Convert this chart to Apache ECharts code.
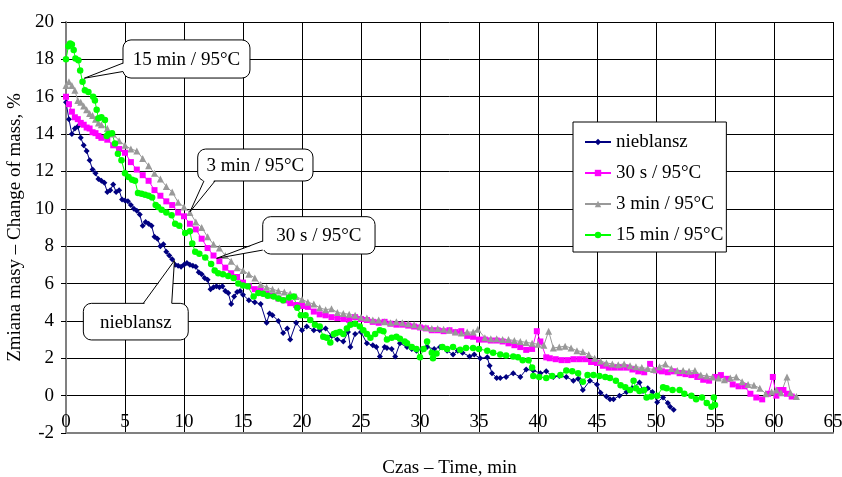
<!DOCTYPE html>
<html><head><meta charset="utf-8">
<script src="https://cdn.jsdelivr.net/npm/echarts@6/dist/echarts.min.js"></script>
<style>html,body{margin:0;padding:0;background:#fff}#c{width:842px;height:477px}</style>
</head><body><div id="c"></div>
<script>
const seriesNames = ['nieblansz', '30 s / 95°C', '3 min / 95°C', '15 min / 95°C'];
const xRange = [0, 65, 5];
const yRange = [-2, 20, 2];
const xTitle = 'Czas – Time, min';
const yTitle = 'Zmiana masy – Change of mass, %';

const nieblansz = [[0,15.7],[0.25,14.8],[0.5,14.0],[0.75,14.3],[1.0,14.4],[1.25,13.8],[1.5,13.4],[1.75,13.1],[2.0,12.6],[2.25,12.1],[2.5,11.9],[2.75,11.6],[3.0,11.5],[3.25,11.4],[3.5,10.9],[3.75,11.0],[4.0,11.3],[4.25,10.9],[4.5,11.0],[4.75,10.5],[5.0,10.45],[5.25,10.4],[5.5,10.2],[5.75,10.0],[6.0,9.9],[6.25,9.7],[6.5,9.1],[6.75,9.3],[7.0,9.2],[7.25,9.1],[7.5,8.5],[7.75,8.4],[8.0,8.0],[8.25,8.1],[8.5,7.7],[8.75,7.5],[9.0,7.3],[9.25,7.0],[9.5,6.95],[9.75,6.9],[10.0,7.0],[10.25,7.1],[10.5,7.0],[10.75,6.95],[11.0,6.9],[11.25,6.6],[11.5,6.5],[11.75,6.3],[12.0,6.2],[12.25,5.7],[12.5,5.8],[12.75,5.85],[13.0,5.8],[13.25,5.85],[13.5,5.6],[13.75,5.5],[14.0,4.9],[14.25,5.3],[14.5,5.55],[14.75,5.6],[15.0,5.4],[15.5,5.1],[16.0,5.0],[16.5,4.9],[17.0,3.9],[17.25,4.4],[17.5,4.3],[18.0,4.0],[18.4,3.35],[18.75,3.6],[19.0,3.0],[19.5,3.9],[20.0,3.5],[20.4,3.7],[21.0,3.5],[21.5,3.5],[22.0,3.6],[22.5,3.2],[23.0,3.0],[23.5,2.9],[23.9,3.4],[24.1,2.6],[24.5,3.3],[25.0,3.4],[25.5,2.8],[26.0,2.7],[26.3,2.6],[26.6,2.1],[27.0,2.6],[27.2,2.55],[27.6,2.5],[27.9,2.1],[28.3,2.8],[28.9,2.6],[29.3,2.5],[29.7,2.4],[30.2,2.5],[30.6,2.6],[31.2,2.5],[31.7,2.6],[32.3,2.4],[32.8,2.2],[33.2,2.4],[33.6,2.3],[34.2,2.1],[34.6,2.2],[35.1,2.0],[35.7,2.05],[35.9,1.6],[36.1,1.2],[36.5,0.95],[36.8,0.95],[37.3,1.0],[37.9,1.2],[38.5,1.0],[39.0,1.4],[39.6,1.35],[40.2,1.2],[40.7,1.3],[41.3,1.0],[41.8,1.05],[42.4,1.0],[43.0,0.8],[43.4,0.9],[43.8,0.3],[44.4,0.8],[45.0,0.6],[45.3,0.15],[45.8,-0.05],[46.1,-0.2],[46.4,-0.2],[46.9,0.0],[47.5,0.2],[48.0,0.4],[48.6,0.7],[48.9,0.25],[49.3,0.4],[49.7,0.2],[50.1,-0.35],[50.6,-0.1],[51.0,-0.4],[51.2,-0.6],[51.5,-0.75]];

const blanch30s = [[0,16.0],[0.25,15.6],[0.5,15.2],[0.75,14.9],[1.0,14.8],[1.25,14.6],[1.5,14.5],[1.75,14.35],[2.0,14.3],[2.25,14.1],[2.5,14.05],[2.75,13.9],[3.0,13.8],[3.5,13.7],[4.0,13.4],[4.5,13.2],[5.0,13.0],[5.5,12.5],[6.0,12.1],[6.5,11.8],[7.0,11.5],[7.5,11.0],[8.0,10.7],[8.5,10.4],[9.0,10.2],[9.5,9.8],[10.0,9.6],[10.5,9.2],[11.0,8.9],[11.5,8.4],[12.0,7.9],[12.5,7.5],[13.0,7.2],[13.5,6.85],[14.0,6.55],[14.5,6.35],[15.0,6.05],[15.5,5.85],[16.0,5.7],[16.5,5.6],[17.0,5.45],[17.5,5.35],[18.0,5.2],[18.5,5.1],[19.0,4.95],[19.5,4.85],[20.0,4.8],[20.5,4.75],[21.0,4.5],[21.5,4.35],[22.0,4.3],[22.5,4.2],[23.0,4.15],[23.5,4.1],[24.0,4.05],[24.5,4.2],[25.0,4.1],[25.5,4.05],[26.0,3.95],[26.5,3.9],[27.0,3.95],[27.5,3.85],[28.0,3.8],[28.5,3.8],[29.0,3.75],[29.5,3.7],[30.0,3.65],[30.5,3.6],[31.0,3.5],[31.5,3.5],[32.0,3.45],[32.5,3.5],[33.0,3.4],[33.5,3.45],[34.0,3.2],[34.5,3.15],[35.0,3.0],[35.5,3.0],[36.0,2.95],[36.5,2.95],[37.0,2.9],[37.5,2.8],[38.0,2.7],[38.5,2.6],[39.0,2.45],[39.5,2.5],[39.9,3.45],[40.2,2.9],[40.7,2.05],[41.0,2.0],[41.5,1.95],[42.0,1.9],[42.5,1.9],[43.0,1.95],[43.5,1.95],[44.0,1.95],[44.5,1.8],[45.0,1.75],[45.5,1.6],[46.0,1.5],[46.5,1.5],[47.0,1.5],[47.5,1.5],[48.0,1.4],[48.5,1.3],[49.0,1.25],[49.5,1.7],[50.0,1.35],[50.5,1.3],[51.0,1.25],[51.5,1.3],[52.0,1.2],[52.5,1.15],[53.0,1.1],[53.5,1.0],[54.0,0.85],[54.5,0.8],[55.0,1.0],[55.5,1.1],[56.0,0.9],[56.5,0.6],[57.0,0.5],[57.5,0.5],[58.0,0.1],[58.5,-0.1],[59.0,-0.2],[59.5,0.1],[59.9,1.0],[60.2,0.0],[60.5,0.3],[60.8,0.3],[61.1,0.1],[61.5,-0.05]];

const blanch3min = [[0,16.6],[0.25,16.8],[0.5,16.6],[0.75,16.35],[1.0,15.8],[1.25,15.7],[1.5,15.5],[1.75,15.3],[2.0,15.1],[2.25,15.0],[2.5,14.8],[2.75,14.6],[3.0,14.5],[3.5,14.3],[4.0,14.0],[4.5,13.65],[5.0,13.4],[5.5,13.2],[6.0,13.1],[6.5,12.7],[7.0,12.3],[7.5,11.9],[8.0,11.6],[8.5,11.2],[9.0,10.9],[9.5,10.35],[10.0,10.1],[10.5,9.8],[11.0,9.3],[11.5,9.0],[12.0,8.5],[12.5,8.1],[13.0,7.9],[13.5,7.5],[14.0,7.2],[14.5,6.85],[15.0,6.7],[15.5,6.5],[16.0,6.3],[16.5,5.95],[17.0,5.8],[17.5,5.7],[18.0,5.6],[18.5,5.55],[19.0,5.45],[19.5,5.3],[20.0,5.15],[20.5,5.0],[21.0,4.9],[21.5,4.7],[22.0,4.6],[22.5,4.65],[23.0,4.45],[23.5,4.4],[24.0,4.35],[24.5,4.3],[25.0,4.2],[25.5,4.15],[26.0,4.05],[26.5,4.05],[27.0,3.95],[27.5,3.9],[28.0,3.95],[28.5,3.9],[29.0,3.85],[29.5,3.8],[30.0,3.7],[30.5,3.65],[31.0,3.6],[31.5,3.6],[32.0,3.55],[32.5,3.5],[33.0,3.4],[33.5,3.35],[34.0,3.4],[34.5,3.4],[34.9,3.55],[35.5,3.1],[36.0,3.05],[36.5,3.05],[37.0,3.0],[37.5,3.0],[38.0,2.95],[38.5,2.9],[39.0,2.85],[39.5,2.8],[40.0,2.75],[40.5,2.7],[40.9,3.45],[41.3,2.55],[41.8,2.6],[42.3,2.65],[42.8,2.55],[43.3,2.4],[43.8,2.35],[44.3,2.2],[44.8,2.0],[45.3,1.85],[45.8,1.75],[46.3,1.7],[46.8,1.65],[47.3,1.7],[47.8,1.6],[48.3,1.55],[48.8,1.5],[49.3,1.45],[49.8,1.4],[50.3,1.55],[50.8,1.7],[51.3,1.45],[51.8,1.35],[52.3,1.35],[52.8,1.3],[53.3,1.35],[53.8,1.1],[54.3,1.05],[54.8,1.0],[55.3,0.95],[55.8,0.85],[56.3,0.95],[56.8,1.0],[57.3,0.75],[57.8,0.6],[58.3,0.55],[58.8,0.4],[59.3,0.1],[59.8,0.2],[60.2,0.3],[60.6,0.15],[61.1,1.0],[61.4,0.15],[61.9,-0.05]];

const blanch15min = [[0,18.0],[0.2,18.7],[0.35,18.85],[0.5,18.8],[0.65,18.5],[0.8,18.05],[1.05,17.95],[1.2,17.4],[1.4,16.8],[1.6,16.35],[1.9,16.25],[2.3,16.0],[2.45,15.8],[2.6,15.3],[2.75,14.85],[3.0,14.9],[3.3,14.75],[3.45,13.9],[3.6,14.0],[3.9,14.05],[4.15,13.5],[4.4,12.95],[4.7,12.6],[5.0,11.9],[5.3,11.7],[5.6,11.55],[5.85,11.5],[6.1,10.85],[6.4,10.8],[6.7,10.75],[7.0,10.7],[7.3,10.6],[7.6,10.2],[7.8,10.1],[8.1,9.95],[8.5,9.8],[8.95,9.65],[9.25,9.2],[9.6,9.1],[10.1,8.7],[10.5,8.8],[10.7,8.15],[10.95,7.7],[11.3,7.6],[11.8,7.4],[12.3,7.05],[12.6,6.7],[12.9,6.55],[13.3,6.5],[13.75,6.4],[14.2,6.3],[14.6,6.0],[15.0,5.9],[15.4,5.85],[15.9,5.3],[16.3,5.5],[16.7,5.45],[17.1,5.35],[17.6,5.3],[18.0,5.2],[18.4,5.1],[18.9,5.25],[19.3,5.3],[19.6,4.7],[19.9,4.3],[20.3,4.3],[20.7,4.05],[21.1,3.8],[21.5,3.7],[21.8,3.15],[22.1,3.1],[22.4,2.85],[22.7,3.3],[22.9,3.35],[23.2,3.4],[23.5,3.3],[23.8,3.6],[24.1,3.8],[24.5,3.85],[24.9,3.7],[25.2,3.5],[25.5,3.3],[25.8,3.1],[26.2,3.3],[26.6,3.5],[26.9,3.45],[27.2,3.0],[27.6,3.1],[28.0,3.15],[28.3,3.05],[28.7,2.9],[28.9,2.8],[29.3,2.6],[29.7,2.5],[30.0,2.05],[30.3,2.5],[30.6,2.9],[31.0,2.3],[31.1,2.0],[31.4,2.25],[31.9,2.6],[32.3,2.5],[32.8,2.6],[33.4,2.45],[33.9,2.55],[34.5,2.55],[35.0,2.5],[35.7,2.4],[36.2,2.3],[36.8,2.2],[37.3,2.15],[37.9,2.1],[38.3,2.05],[38.7,1.9],[39.2,1.9],[39.5,1.5],[39.6,1.05],[40.1,1.0],[40.7,0.95],[41.2,1.05],[41.9,1.1],[42.4,1.35],[42.9,1.3],[43.4,1.2],[43.8,0.75],[44.2,1.1],[44.7,1.1],[45.2,1.05],[45.7,1.0],[46.1,0.95],[46.6,0.8],[47.0,0.55],[47.4,0.45],[47.8,0.3],[48.1,0.8],[48.3,0.4],[48.6,0.25],[49.0,0.3],[49.2,-0.1],[49.6,-0.05],[50.1,0.0],[50.6,0.45],[50.9,0.4],[51.4,0.3],[52.0,0.3],[52.4,0.1],[53.0,0.0],[53.4,-0.2],[53.9,-0.1],[54.3,-0.4],[54.7,-0.6],[54.9,-0.1],[55.0,-0.5]];

// Callout annotations (anchored in data coordinates)
const callouts = [
  {text: '15 min / 95°C', tip: [1.55, 16.99], box: [4.83, 19.04, 15.59, 17.0], base: [[4.83, 17.8], [4.83, 17.35]], edge: 'left'},
  {text: '3 min / 95°C', tip: [10.51, 9.84], box: [11.16, 13.2, 20.93, 11.49], base: [[11.69, 11.49], [12.63, 11.49]], edge: 'bottom'},
  {text: '30 s / 95°C', tip: [12.77, 7.35], box: [16.67, 9.58, 26.19, 7.58], base: [[16.67, 8.28], [16.67, 7.79]], edge: 'left'},
  {text: 'nieblansz', tip: [9.19, 7.23], box: [1.47, 4.94, 10.36, 2.98], base: [[6.55, 4.94], [8.96, 4.94]], edge: 'top'}
];

const FONT = '"Liberation Serif", "Times New Roman", serif';
const colors = ['#000080', '#FF00FF', '#999999', '#00FF00'];
const symbols = ['diamond', 'rect', 'triangle', 'circle'];
const sizes = [6, 6, 7, 6.5];
const datasets = [nieblansz, blanch30s, blanch3min, blanch15min];

const chart = echarts.init(document.getElementById('c'), null, {renderer: 'canvas'});
chart.setOption({
  animation: false,
  backgroundColor: '#fff',
  grid: {left: 66, right: 9, top: 22, bottom: 44, containLabel: false, outerBoundsMode: 'none'},
  xAxis: {
    type: 'value', min: xRange[0], max: xRange[1], interval: xRange[2],
    name: xTitle, nameLocation: 'middle', nameGap: 26,
    nameTextStyle: {fontFamily: FONT, fontSize: 19, color: '#000'},
    axisLine: {show: true, onZero: false, lineStyle: {color: '#808080', width: 2}},
    axisTick: {show: false},
    axisLabel: {inside: true, margin: 1, fontFamily: FONT, fontSize: 19, color: '#000'},
    splitLine: {show: true, lineStyle: {color: '#000', width: 1}}
  },
  yAxis: {
    type: 'value', min: yRange[0], max: yRange[1], interval: yRange[2],
    name: yTitle, nameLocation: 'middle', nameRotate: 90, nameGap: 34,
    nameTextStyle: {fontFamily: FONT, fontSize: 19, color: '#000'},
    axisLine: {show: true, onZero: false, lineStyle: {color: '#808080', width: 2}},
    axisTick: {show: true, inside: false, length: 5, lineStyle: {color: '#000'}},
    axisLabel: {margin: 12, fontFamily: FONT, fontSize: 19, color: '#000'},
    splitLine: {show: true, lineStyle: {color: '#000', width: 1}}
  },
  legend: {
    orient: 'vertical', left: 573, top: 122,
    padding: [10, 3, 7, 11], itemGap: 11, itemWidth: 26, itemHeight: 8,
    backgroundColor: '#fff', borderColor: '#000', borderWidth: 1, borderRadius: 0,
    textStyle: {fontFamily: FONT, fontSize: 19, color: '#000', lineHeight: 20},
    data: seriesNames
  },
  series: datasets.map((d, i) => ({
    name: seriesNames[i], type: 'line', data: d,
    symbol: symbols[i], symbolSize: sizes[i], showAllSymbol: true,
    lineStyle: {color: colors[i], width: 1},
    itemStyle: {color: colors[i], borderWidth: 0},
    emphasis: {disabled: true}
  }))
});

function px(p) { return chart.convertToPixel({gridIndex: 0}, p); }
const graphics = [];
callouts.forEach(c => {
  const tl = px([c.box[0], c.box[1]]);
  const br = px([c.box[2], c.box[3]]);
  const tip = px(c.tip);
  const b1 = px(c.base[0]);
  const b2 = px(c.base[1]);
  const off = c.edge === 'left' ? [2, 0] : c.edge === 'top' ? [0, 2] : [0, -2];
  graphics.push({type: 'rect', z: 100, shape: {x: tl[0], y: tl[1], width: br[0] - tl[0], height: br[1] - tl[1], r: 8},
    style: {fill: '#fff', stroke: '#000', lineWidth: 1}});
  graphics.push({type: 'polygon', z: 101, shape: {points: [[b1[0] + off[0], b1[1] + off[1]], tip, [b2[0] + off[0], b2[1] + off[1]]]},
    style: {fill: '#fff', stroke: null}});
  graphics.push({type: 'polyline', z: 102, shape: {points: [b1, tip, b2]}, style: {stroke: '#000', lineWidth: 1, fill: null}});
  graphics.push({type: 'text', z: 103, style: {text: c.text, x: (tl[0] + br[0]) / 2, y: (tl[1] + br[1]) / 2 + 1,
    align: 'center', verticalAlign: 'middle', font: '19px ' + FONT, fill: '#000'}});
});
chart.setOption({graphic: graphics});
</script>
</body></html>
